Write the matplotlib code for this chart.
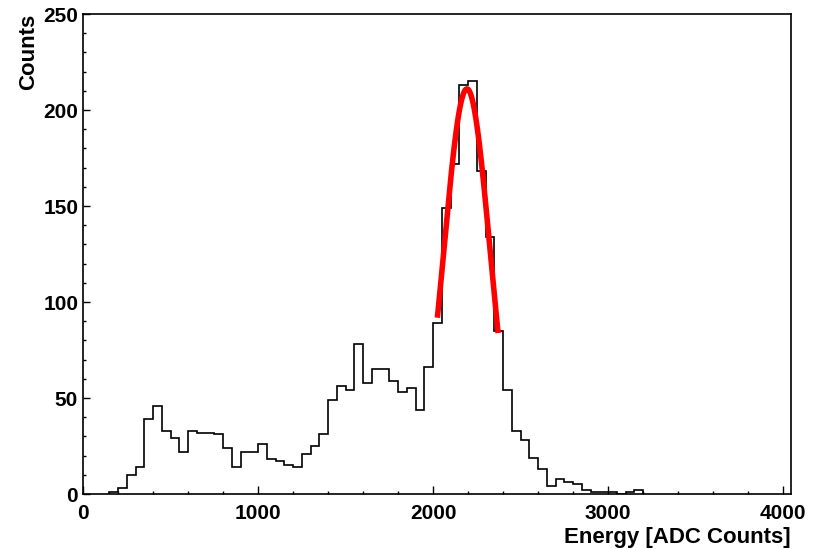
import numpy as np
import matplotlib.pyplot as plt
from matplotlib.ticker import MultipleLocator

# histogram data (bin width 50 ADC counts, first bin starts at 150)
bin_start = 150
bin_width = 50
counts = [1, 3, 10, 14, 39, 46, 33, 29, 22, 33,
          32, 32, 31, 24, 14, 22, 22, 26, 18, 17,
          15, 14, 21, 25, 31, 49, 56, 54, 78, 58,
          65, 65, 59, 53, 55, 44, 66, 89, 149, 172,
          213, 215, 168, 134, 85, 54, 33, 28, 19, 13,
          4, 8, 6, 5, 2, 1, 1, 1, 0, 1,
          2]

# gaussian fit parameters
fit_amp = 211
fit_mean = 2194
fit_sigma = 131
fit_range = (2025, 2372)

plt.rcParams['font.family'] = ['Liberation Sans', 'DejaVu Sans']
plt.rcParams['font.weight'] = 'bold'

fig = plt.figure(figsize=(8.21, 5.49), dpi=100)
ax = fig.add_axes([83 / 821, 55 / 549, (790.7 - 83) / 821, 480 / 549])

edges = bin_start + bin_width * np.arange(len(counts) + 1)
ax.stairs(counts, edges, baseline=0, color='black', linewidth=1.2)

xf = np.linspace(fit_range[0], fit_range[1], 200)
yf = fit_amp * np.exp(-0.5 * ((xf - fit_mean) / fit_sigma) ** 2)
ax.plot(xf, yf, color='red', linewidth=4, solid_capstyle='butt')

ax.set_xlim(0, 4044)
ax.set_ylim(0, 250)
ax.xaxis.set_major_locator(MultipleLocator(1000))
ax.xaxis.set_minor_locator(MultipleLocator(200))
ax.yaxis.set_major_locator(MultipleLocator(50))
ax.yaxis.set_minor_locator(MultipleLocator(10))
ax.tick_params(which='both', direction='in', top=False, right=False,
               labelsize=15, width=1)
ax.tick_params(axis='x', which='major', length=6, pad=7)
ax.tick_params(axis='y', which='major', length=5, pad=3.5)
ax.tick_params(which='minor', length=2.5)
for s in ax.spines.values():
    s.set_linewidth(1.2)

ax.set_xlabel('Energy [ADC Counts]', fontsize=16, fontweight='bold', loc='right', labelpad=3)
ax.set_ylabel('Counts', fontsize=16, fontweight='bold', loc='top', labelpad=3)

fig.savefig('out.png', dpi=100)
